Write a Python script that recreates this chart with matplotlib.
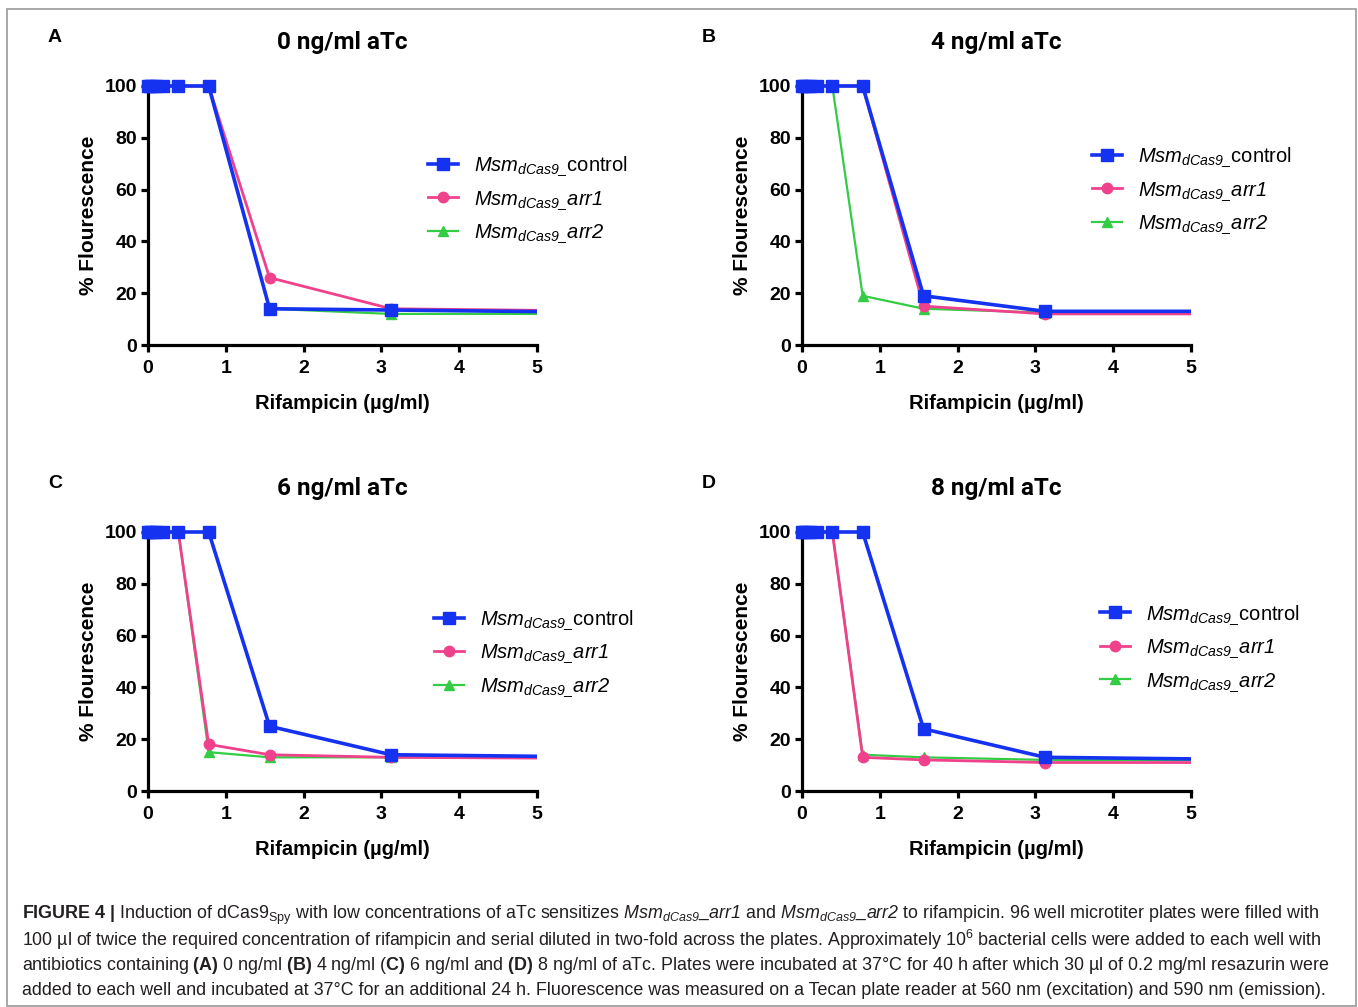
import numpy as np
import matplotlib
matplotlib.use('Agg')
import matplotlib.pyplot as plt
from matplotlib.patches import Rectangle
from matplotlib.transforms import Bbox, TransformedBbox

plt.rcParams['font.family'] = ['Liberation Sans', 'DejaVu Sans']
plt.rcParams['mathtext.fontset'] = 'custom'
plt.rcParams['mathtext.rm'] = 'Liberation Sans'
plt.rcParams['mathtext.it'] = 'Liberation Sans:italic'
plt.rcParams['mathtext.sf'] = 'Liberation Sans:italic'
plt.rcParams['mathtext.bf'] = 'Liberation Sans:bold'

# rifampicin (ug/ml), two-fold serial dilution; last point lies beyond the axis
rif = [0, 0.024, 0.049, 0.098, 0.195, 0.39, 0.78, 1.5625, 3.125, 6.25]

panels = ['A', 'B', 'C', 'D']
titles = ['0 ng/ml aTc', '4 ng/ml aTc', '6 ng/ml aTc', '8 ng/ml aTc']

control = [
    [100, 100, 100, 100, 100, 100, 100, 14, 13.5, 12.5],
    [100, 100, 100, 100, 100, 100, 100, 19, 13, 13],
    [100, 100, 100, 100, 100, 100, 100, 25, 14, 13],
    [100, 100, 100, 100, 100, 100, 100, 24, 13, 12],
]
arr1 = [
    [100, 100, 100, 100, 100, 100, 100, 26, 14, 13],
    [100, 100, 100, 100, 100, 100, 100, 15, 12, 12],
    [100, 100, 100, 100, 100, 100, 18, 14, 13, 12.5],
    [100, 100, 100, 100, 100, 100, 13, 12, 11, 11],
]
arr2 = [
    [100, 100, 100, 100, 100, 100, 100, 14, 12, 12],
    [100, 100, 100, 100, 100, 100, 19, 14, 12.5, 12.5],
    [100, 100, 100, 100, 100, 100, 15, 13, 13, 13],
    [100, 100, 100, 100, 100, 100, 14, 13, 12, 12],
]

series_labels = [r'$\mathsf{Msm}_{\mathsf{dCas9\_}}$control',
                 r'$\mathsf{Msm}_{\mathsf{dCas9\_}}\mathsf{arr1}$',
                 r'$\mathsf{Msm}_{\mathsf{dCas9\_}}\mathsf{arr2}$']

xticks = [0, 1, 2, 3, 4, 5]
yticks = [0, 20, 40, 60, 80, 100]

caption = [
    r'$\mathbf{FIGURE\ 4\ |}$ Induction of dCas9$_\mathrm{Spy}$ with low concentrations of aTc sensitizes '
    r'$\mathsf{Msm}_{\mathsf{dCas9}}\mathsf{\_arr1}$ and $\mathsf{Msm}_{\mathsf{dCas9}}\mathsf{\_arr2}$ '
    r'to rifampicin. 96 well microtiter plates were filled with',
    r'100 µl of twice the required concentration of rifampicin and serial diluted in two-fold across the plates. '
    r'Approximately 10$^6$ bacterial cells were added to each well with',
    r'antibiotics containing $\mathbf{(A)}$ 0 ng/ml $\mathbf{(B)}$ 4 ng/ml ($\mathbf{C)}$ 6 ng/ml and '
    r'$\mathbf{(D)}$ 8 ng/ml of aTc. Plates were incubated at 37°C for 40 h after which 30 µl of 0.2 mg/ml resazurin were',
    r'added to each well and incubated at 37°C for an additional 24 h. Fluorescence was measured on a Tecan plate '
    r'reader at 560 nm (excitation) and 590 nm (emission).',
]

W, H = 1358, 1007
fig = plt.figure(figsize=(W / 100, H / 100), dpi=100)
fig.patch.set_facecolor('white')

# outer frame
fig.add_artist(Rectangle((7 / W, 1 - 1006 / H), 1349 / W, 997 / H, transform=fig.transFigure,
                         fill=False, edgecolor='#9a9a9a', linewidth=1.2))

# axes boxes in pixels: left, top(y=100), right(x=5), bottom(y=0)
boxes = [(148, 86, 537, 345), (802, 86, 1191, 345),
         (148, 532, 537, 791), (802, 532, 1191, 791)]
leg_anchor = [(0.72, 0.735), (0.745, 0.77), (0.735, 0.705), (0.766, 0.725)]

colors = ['#1432f0', '#f0428c', '#34cc45']
markers = ['s', 'o', '^']
msizes = [8, 7.5, 7]
lws = [2.6, 2.0, 1.6]
zorders = [5, 4, 3]

lw_ax = 2.3
for i in range(4):
    l, t, r, b = boxes[i]
    ax = fig.add_axes([l / W, 1 - b / H, (r - l) / W, (b - t) / H])
    handles = []
    for j, ys in enumerate([control[i], arr1[i], arr2[i]]):
        ln, = ax.plot(rif, ys, color=colors[j], marker=markers[j], ms=msizes[j],
                      lw=lws[j], zorder=zorders[j], label=series_labels[j])
        ln.set_clip_box(TransformedBbox(Bbox([[-0.1, 0], [1, 1.1]]), ax.transAxes))
        handles.append(ln)

    ax.set_xlim(0, 5)
    ax.set_ylim(0, 100)
    ax.set_xticks(xticks)
    ax.set_yticks(yticks)

    ax.spines['left'].set_linewidth(lw_ax)
    ax.spines['bottom'].set_linewidth(lw_ax)
    ax.spines['top'].set_visible(False)
    ax.spines['right'].set_visible(False)
    ax.tick_params('both', which='major', direction='out', length=5, width=lw_ax, pad=3)
    ax.tick_params('x', pad=6)

    ticklabels = ax.get_xticklabels() + ax.get_yticklabels()
    [tl.set_fontsize(14) for tl in ticklabels]
    [tl.set_fontweight('bold') for tl in ticklabels]

    ax.set_xlabel('Rifampicin (µg/ml)', fontsize=14.5, fontweight='bold', labelpad=12)
    ax.set_ylabel('% Flourescence', fontsize=15, fontweight='bold', labelpad=5)

    ax.text(0.5, (b - t + 43) / (b - t), titles[i], transform=ax.transAxes,
            ha='center', va='center', fontsize=17.5, fontweight='bold', family='Roboto')
    ax.text(-93 / (r - l), (b - t + 48) / (b - t), panels[i], transform=ax.transAxes,
            ha='center', va='center', fontsize=14, fontweight='bold')

    leg = ax.legend(handles=handles, loc='upper left', bbox_to_anchor=leg_anchor[i],
                    frameon=False, fontsize=14.5, handlelength=1.5, handletextpad=0.8,
                    labelspacing=0.55, borderpad=0, borderaxespad=0)

for k, line in enumerate(caption):
    fig.text(22 / W, 1 - (915 + 25.3 * k) / H, line, ha='left', va='center',
             fontsize=12.9, color='#231f20')

fig.savefig('out.png', dpi=100)
